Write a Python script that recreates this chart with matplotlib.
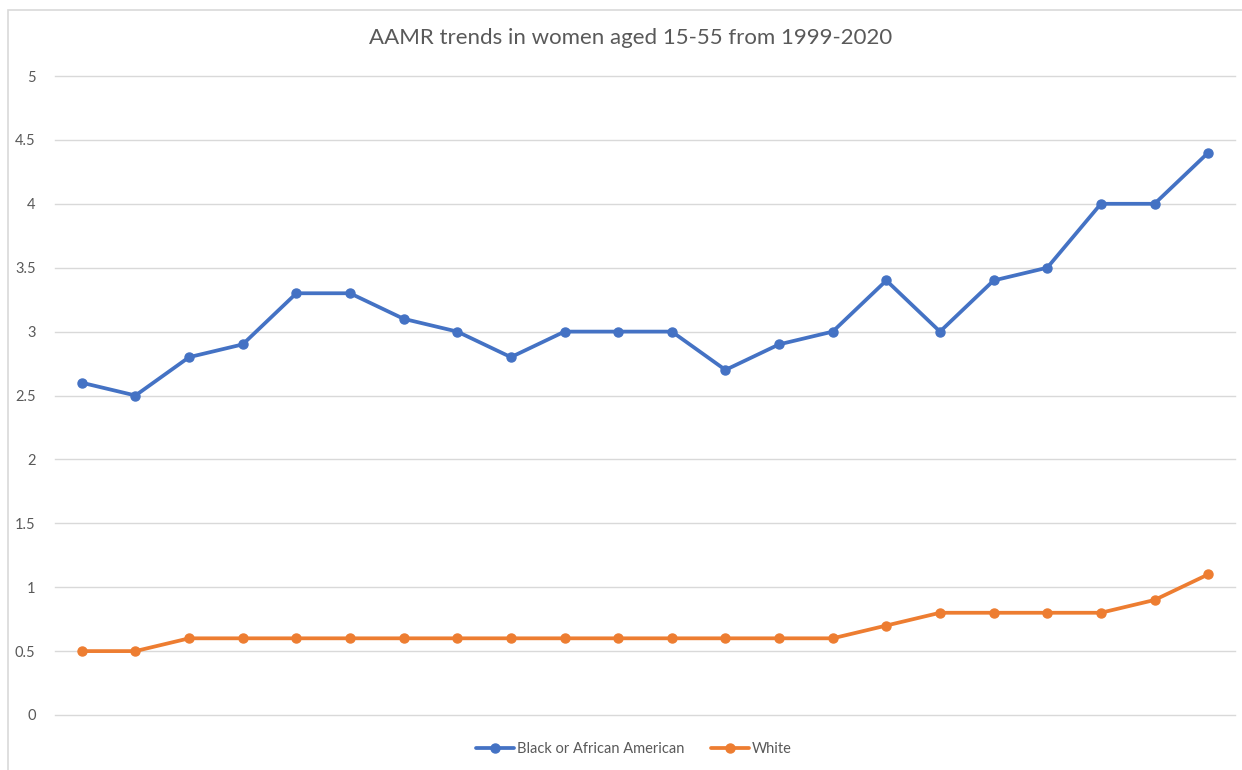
import matplotlib.pyplot as plt
from matplotlib.patches import Rectangle

years = list(range(1999, 2021))
black = [2.6, 2.5, 2.8, 2.9, 3.3, 3.3, 3.1, 3.0, 2.8, 3.0, 3.0,
         3.0, 2.7, 2.9, 3.0, 3.4, 3.0, 3.4, 3.5, 4.0, 4.0, 4.4]
white = [0.5, 0.5, 0.6, 0.6, 0.6, 0.6, 0.6, 0.6, 0.6, 0.6, 0.6,
         0.6, 0.6, 0.6, 0.6, 0.7, 0.8, 0.8, 0.8, 0.8, 0.9, 1.1]
yticks = [0, 0.5, 1, 1.5, 2, 2.5, 3, 3.5, 4, 4.5, 5]
ytick_labels = ["0", "0.5", "1", "1.5", "2", "2.5", "3", "3.5", "4", "4.5", "5"]

plt.rcParams['font.family'] = ['Lato', 'DejaVu Sans']
text_color = '#595959'

fig = plt.figure(figsize=(12.42, 7.7), dpi=100)
fig.patches.append(Rectangle((8 / 1242, -0.01), 1.1, 1 - 10 / 770 + 0.01,
                             transform=fig.transFigure, fill=False,
                             edgecolor='#d9d9d9', linewidth=1.2))
ax = fig.add_axes([55 / 1242, 1 - 715 / 770, 1180 / 1242, (715 - 76) / 770])

x = list(range(len(years)))
ax.plot(x, black, color='#4472C4', linewidth=2.7, marker='o', markersize=6.5,
        label='Black or African American', solid_capstyle='round', zorder=3)
ax.plot(x, white, color='#ED7D31', linewidth=2.7, marker='o', markersize=6.5,
        label='White', solid_capstyle='round', zorder=3)

ax.set_xlim(-0.5, len(years) - 0.5)
ax.set_ylim(0, 5)
ax.set_xticks([])
ax.set_yticks(yticks)
ax.set_yticklabels(ytick_labels)
ax.tick_params(axis='y', length=0, pad=14, labelsize=10.5, labelcolor=text_color)
ax.yaxis.grid(True, color='#d9d9d9', linewidth=1)
for gl in ax.get_ygridlines():
    gl.set_clip_on(False)
ax.set_axisbelow(True)
for s in ax.spines.values():
    s.set_visible(False)

fig.text(631 / 1242, 1 - 38 / 770, 'AAMR trends in women aged 15-55 from 1999-2020',
         ha='center', va='center', fontsize=16, color=text_color)

leg = fig.legend(loc='center', bbox_to_anchor=(634 / 1242, 1 - 749 / 770), ncol=2,
                 frameon=False, fontsize=10.5, handlelength=2.6, columnspacing=1.8,
                 handletextpad=0.2)
for t in leg.get_texts():
    t.set_color(text_color)

fig.savefig('out.png', dpi=100)
